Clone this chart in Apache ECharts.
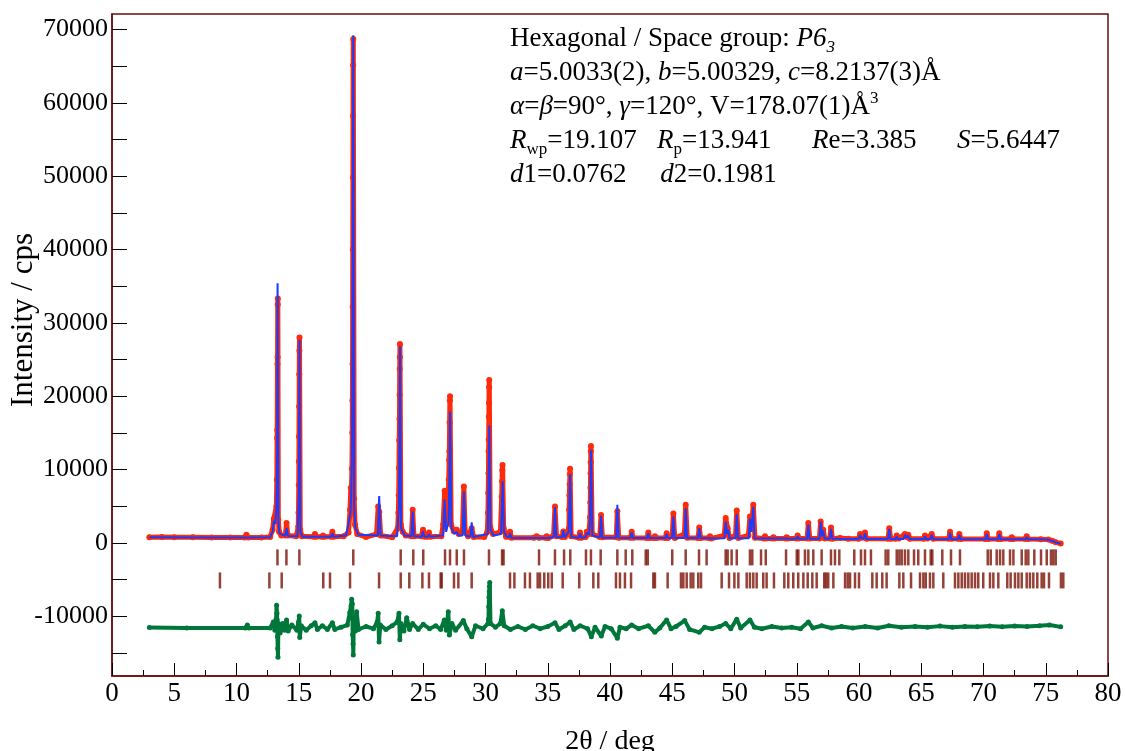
<!DOCTYPE html>
<html>
<head>
<meta charset="utf-8">
<title>Rietveld refinement</title>
<script src="https://cdn.jsdelivr.net/npm/echarts@6.0.0/dist/echarts.min.js"></script>
<style>
  html, body { margin: 0; padding: 0; background: #fff; }
  #main { width: 1125px; height: 751px; }
</style>
</head>
<body>
<div id="main"></div>
<script>
// observed intensity (2θ, cps)
var observed = [
  [3.0,780],[4.0,800],[5.0,780],[6.5,760],[8.0,740],[9.5,730],[10.65,730],[10.8,1100],[10.95,730],[12.0,720],
  [12.7,800],[12.9,1800],[13.0,3300],[13.08,3100],[13.15,3300],[13.2,4950],[13.24,8600],[13.26,14300],[13.27,15400],
  [13.29,24400],[13.3,25300],[13.31,32500],[13.32,33300],[13.36,3150],[13.42,1500],[13.6,1000],[13.92,1000],
  [14.02,2700],[14.12,1000],[14.8,900],[14.96,2200],[14.98,4100],[15.0,7900],[15.01,11100],[15.02,14500],
  [15.03,18600],[15.04,23000],[15.05,26200],[15.06,28000],[15.12,1800],[15.25,900],[16.2,850],[16.3,1200],
  [16.4,850],[16.85,850],[16.95,1000],[17.05,850],[17.6,850],[17.7,1500],[17.8,850],[18.6,900],[19.0,1400],
  [19.12,4500],[19.18,7500],[19.22,6200],[19.27,10100],[19.3,15000],[19.31,19400],[19.32,24400],[19.33,32200],
  [19.34,40000],[19.35,49800],[19.36,58200],[19.37,65100],[19.38,68700],[19.45,6000],[19.52,2500],[19.7,1200],
  [20.4,800],[21.25,1200],[21.38,4950],[21.47,4200],[21.58,1000],[22.5,750],[22.95,2000],[23.0,4100],
  [23.03,6500],[23.05,10200],[23.07,14000],[23.09,16900],[23.1,20200],[23.11,23700],[23.12,25300],[23.13,27100],
  [23.2,2500],[23.35,1500],[23.6,1000],[24.05,900],[24.15,4500],[24.25,900],[24.85,900],[24.98,1800],[25.1,850],
  [25.35,850],[25.46,1400],[25.58,850],[26.45,900],[26.6,2500],[26.72,7100],[26.82,3000],[26.95,3500],
  [27.05,8600],[27.08,11300],[27.1,12500],[27.12,16400],[27.14,19400],[27.15,20000],[27.24,2500],[27.45,1600],
  [27.69,1800],[27.85,1200],[28.15,1500],[28.26,7700],[28.36,1500],[28.6,900],[28.89,2000],[29.05,800],
  [29.9,800],[30.15,1500],[30.2,4100],[30.22,6800],[30.24,9500],[30.25,12500],[30.26,14100],[30.27,17200],
  [30.28,19100],[30.29,21200],[30.3,22200],[30.38,2200],[30.6,1200],[31.2,1500],[31.3,6300],[31.33,8400],
  [31.35,9900],[31.37,10600],[31.46,2000],[31.65,850],[31.88,850],[31.97,1500],[32.08,700],[33.9,700],
  [34.1,900],[34.3,700],[34.8,700],[34.91,900],[35.05,650],[35.47,1000],[35.58,4950],[35.7,900],[36.15,800],
  [36.25,1550],[36.38,800],[36.7,2000],[36.72,4500],[36.74,6500],[36.76,8000],[36.78,9400],[36.79,10100],
  [36.88,900],[37.5,700],[37.59,1400],[37.7,700],[38.05,800],[38.13,1500],[38.3,1200],[38.4,3500],[38.42,5500],
  [38.43,7500],[38.44,9500],[38.45,11000],[38.46,12500],[38.47,13200],[38.57,1200],[39.18,800],[39.28,3800],
  [39.39,750],[40.5,750],[40.59,4300],[40.7,700],[41.65,700],[41.74,1500],[41.85,700],[42.98,650],[43.08,1400],
  [43.18,650],[43.52,650],[43.61,900],[43.72,650],[44.45,650],[44.55,1300],[44.65,650],[45.0,1000],[45.09,4000],
  [45.2,650],[45.98,1200],[46.08,5200],[46.2,700],[47.07,650],[47.17,2100],[47.28,650],[47.93,650],[48.03,900],
  [48.13,600],[49.18,1000],[49.29,3400],[49.45,2000],[49.6,650],[50.08,1000],[50.18,4400],[50.3,650],
  [51.12,1000],[51.24,3600],[51.36,2400],[51.51,5200],[51.64,700],[52.35,600],[52.45,900],[52.55,600],
  [53.02,600],[53.12,750],[53.22,600],[54.09,600],[54.19,750],[54.29,580],[54.97,580],[55.07,1000],[55.18,580],
  [55.83,600],[55.93,2700],[56.05,580],[56.82,600],[56.92,2900],[57.02,1000],[57.13,1800],[57.25,580],
  [57.65,580],[57.75,2100],[57.87,560],[58.47,650],[59.14,560],[59.98,560],[60.08,1200],[60.28,700],
  [60.48,1400],[60.6,550],[62.33,550],[62.43,2000],[62.55,550],[62.93,550],[63.03,1000],[63.2,600],[63.69,1200],
  [63.82,800],[63.96,1100],[64.08,550],[65.2,550],[65.3,1000],[65.5,600],[65.84,1200],[65.96,550],[67.21,550],
  [67.31,1500],[67.43,550],[67.96,550],[68.06,1200],[68.18,530],[70.16,530],[70.26,1300],[70.38,520],
  [71.17,520],[71.27,1300],[71.39,520],[72.17,520],[72.27,750],[72.37,520],[73.37,520],[73.47,900],[73.58,520],
  [74.6,500],[75.2,450],[75.5,300],[75.8,100],[76.2,-100]
];

// calculated profile
var calculated = [
  [3.0,760],[6.5,740],[10.65,720],[10.8,950],[10.95,720],[12.7,780],[12.9,1500],[13.0,3000],[13.1,2600],
  [13.2,4500],[13.26,12000],[13.3,35400],[13.36,3000],[13.45,1300],[13.92,950],[14.03,2000],[14.13,950],
  [14.9,900],[15.0,6000],[15.06,27700],[15.13,1500],[15.3,850],[16.2,850],[16.3,1000],[16.4,850],[17.6,850],
  [17.7,1300],[17.8,850],[18.8,1000],[19.15,4000],[19.2,6000],[19.28,12000],[19.38,69200],[19.45,5000],
  [19.55,2000],[19.8,1100],[21.35,1000],[21.46,6400],[21.57,1000],[22.9,900],[23.05,5000],[23.14,26800],
  [23.22,2000],[23.5,1000],[24.05,900],[24.15,4300],[24.25,900],[24.88,850],[24.98,1600],[25.08,850],
  [25.36,850],[25.46,1200],[25.56,850],[26.6,1000],[26.72,5900],[26.84,1500],[27.05,3000],[27.16,17900],
  [27.26,2000],[27.5,1200],[27.69,1500],[27.85,1000],[28.16,1000],[28.27,7000],[28.38,1000],[28.79,850],
  [28.89,2800],[29.0,800],[30.18,1200],[30.31,16000],[30.4,1800],[30.65,1000],[31.25,1200],[31.38,8400],
  [31.48,1500],[31.7,850],[31.88,800],[31.97,1300],[32.07,700],[34.0,680],[34.1,900],[34.2,680],[34.81,680],
  [34.91,800],[35.01,650],[35.48,800],[35.58,4900],[35.68,800],[36.15,750],[36.25,1700],[36.35,750],
  [36.68,1500],[36.8,9400],[36.9,800],[37.49,700],[37.59,1300],[37.69,700],[38.03,750],[38.13,1400],
  [38.3,1100],[38.38,2500],[38.48,12700],[38.58,1000],[39.18,750],[39.28,3700],[39.38,700],[40.49,700],
  [40.59,5200],[40.69,700],[41.64,680],[41.74,1400],[41.84,680],[42.98,650],[43.08,1300],[43.18,650],
  [43.51,650],[43.61,900],[43.71,650],[44.45,650],[44.55,1200],[44.65,650],[44.99,650],[45.09,3600],
  [45.19,650],[45.98,650],[46.08,4700],[46.18,650],[47.07,650],[47.17,2000],[47.27,650],[47.93,620],
  [48.03,800],[48.13,600],[49.19,620],[49.29,2900],[49.4,1200],[49.5,1800],[49.6,620],[50.08,620],[50.18,3900],
  [50.28,620],[51.14,620],[51.24,3300],[51.36,1500],[51.51,4900],[51.61,620],[52.35,600],[52.45,800],
  [52.55,600],[53.02,580],[53.12,700],[53.22,580],[54.09,580],[54.19,700],[54.29,560],[54.97,560],[55.07,900],
  [55.17,560],[55.83,560],[55.93,2500],[56.03,560],[56.82,560],[56.92,2900],[57.02,900],[57.13,1700],
  [57.23,560],[57.65,550],[57.75,1900],[57.85,550],[58.37,550],[58.47,600],[58.57,540],[59.98,530],
  [60.08,1100],[60.2,600],[60.38,600],[60.48,1300],[60.58,530],[62.33,520],[62.43,1900],[62.53,520],
  [62.93,520],[63.03,900],[63.13,520],[63.59,520],[63.69,1100],[63.82,700],[63.96,1000],[64.06,520],
  [65.2,520],[65.3,900],[65.4,520],[65.74,520],[65.84,1100],[65.94,520],[67.21,510],[67.31,1400],[67.41,510],
  [67.96,510],[68.06,1100],[68.16,510],[70.16,500],[70.26,1200],[70.36,500],[71.17,500],[71.27,1200],
  [71.37,500],[72.17,500],[72.27,700],[72.37,500],[73.37,500],[73.47,800],[73.57,490],[74.6,480],[75.2,430],
  [75.5,280],[75.8,80],[76.2,-120]
];

// observed - calculated, shown with an offset
var difference = [
  [3.0,-11550],[6.0,-11600],[10.7,-11600],[10.87,-11200],[11.0,-11600],[12.7,-11600],[12.95,-10800],
  [13.08,-11900],[13.18,-10400],[13.22,-8500],[13.25,-9600],[13.27,-10500],[13.29,-12800],[13.31,-14400],
  [13.33,-15600],[13.37,-11000],[13.5,-12300],[13.7,-11000],[13.85,-11900],[14.02,-10500],[14.15,-12000],
  [14.45,-11200],[14.85,-11900],[14.98,-10800],[15.04,-9960],[15.08,-12900],[15.2,-11300],[15.6,-11900],
  [16.0,-11300],[16.3,-10900],[16.5,-11800],[16.9,-11300],[17.3,-11800],[17.7,-10900],[17.9,-11800],
  [18.4,-11500],[18.9,-11200],[19.1,-9500],[19.2,-8600],[19.25,-7700],[19.3,-8300],[19.33,-12500],
  [19.36,-13800],[19.38,-15300],[19.42,-10500],[19.55,-12000],[19.65,-9400],[19.8,-11800],[20.4,-11400],
  [21.0,-11700],[21.3,-10800],[21.38,-9600],[21.45,-13500],[21.55,-11200],[22.0,-11800],[22.5,-11300],
  [22.9,-10800],[23.05,-9600],[23.12,-13200],[23.2,-11000],[23.45,-12000],[23.67,-10200],[23.9,-11800],
  [24.15,-11000],[24.6,-11800],[25.0,-11100],[25.5,-11700],[26.0,-11300],[26.4,-11800],[26.69,-10500],
  [26.85,-11900],[27.01,-9400],[27.1,-12550],[27.3,-11000],[27.6,-11900],[28.22,-10600],[28.5,-11700],
  [28.89,-12800],[29.2,-11300],[29.8,-11700],[30.2,-11000],[30.24,-10400],[30.26,-8700],[30.28,-7400],
  [30.3,-6640],[30.32,-5960],[30.34,-5400],[30.4,-11000],[30.8,-11500],[31.2,-11000],[31.35,-9240],
  [31.5,-11300],[32.0,-11800],[32.6,-11400],[33.2,-11800],[33.8,-11300],[34.4,-11700],[35.0,-11400],
  [35.58,-10900],[35.9,-11800],[36.4,-11300],[36.8,-10800],[37.1,-11800],[37.6,-11300],[38.2,-11700],
  [38.5,-12800],[38.8,-11500],[39.3,-12700],[39.6,-11400],[40.1,-11700],[40.59,-13000],[40.8,-11500],
  [41.3,-11700],[41.74,-11200],[42.3,-11700],[43.08,-11300],[43.6,-12200],[44.0,-11600],[44.55,-10500],
  [44.9,-11700],[45.3,-11400],[46.0,-10600],[46.4,-11800],[47.17,-12200],[47.6,-11500],[48.2,-11700],
  [48.8,-11400],[49.29,-11000],[49.7,-11700],[50.18,-10400],[50.5,-11600],[51.24,-10500],[51.6,-11500],
  [52.2,-11700],[53.0,-11400],[53.8,-11600],[54.6,-11500],[55.3,-11700],[55.93,-10800],[56.3,-11600],
  [57.0,-11300],[57.8,-11600],[58.6,-11400],[59.5,-11600],[60.5,-11400],[61.5,-11600],[62.4,-11300],
  [63.4,-11500],[64.5,-11400],[65.5,-11500],[66.5,-11350],[67.5,-11500],[68.5,-11400],[69.5,-11450],
  [70.5,-11350],[71.5,-11450],[72.5,-11350],[73.5,-11400],[74.5,-11300],[75.3,-11200],[76.2,-11450]
];

// reflection positions, phase 1 (upper row) and phase 2 (lower row)
var phase1 = [13.29, 14.01, 15.05, 19.38, 23.19, 24.2, 25.0, 26.75, 27.15, 27.69, 28.27, 30.28, 31.33, 31.45,
  34.30, 35.58, 36.31, 36.81, 38.07, 38.47, 39.25, 40.59, 41.26, 41.79, 42.87, 43.03, 45.0, 46.08, 47.15, 47.76,
  49.29, 49.45, 49.77, 50.18, 51.24, 51.43, 52.13, 52.51, 54.14, 55.0, 55.13, 55.66, 55.93, 56.33, 57.0, 57.75,
  58.07, 58.42, 59.62, 60.16, 60.48, 60.96, 62.14, 62.35, 63.03, 63.24, 63.43, 63.69, 63.96, 64.42, 64.76,
  65.30, 65.76, 65.89, 66.69, 67.39, 68.11, 70.34, 70.58, 71.06, 71.33, 71.59, 72.13, 72.40, 73.07, 73.39,
  73.60, 74.08, 74.62, 75.08, 75.42, 75.61, 75.80];
var phase2 = [8.67, 12.64, 13.63, 16.97, 17.51, 19.12, 21.45, 23.19, 23.88, 24.93, 25.46, 26.40, 26.48, 27.47,
  27.82, 28.89, 31.97, 32.32, 33.17, 33.57, 34.19, 34.38, 34.72, 35.04, 35.32, 36.20, 37.53, 38.66, 39.06,
  40.48, 40.80, 41.20, 41.69, 43.48, 43.61, 44.63, 45.70, 45.89, 46.16, 46.48, 46.69, 47.09, 47.31, 48.97,
  49.56, 49.99, 50.31, 50.98, 51.24, 51.51, 51.78, 52.31, 52.58, 53.17, 54.0, 54.32, 54.72, 55.12, 55.53,
  55.88, 56.25, 56.60, 57.21, 57.35, 57.53, 57.94, 58.88, 59.09, 59.28, 59.68, 60.0, 61.07, 61.42, 61.87,
  62.22, 63.24, 63.56, 64.18, 64.90, 65.17, 65.36, 65.70, 65.97, 66.77, 67.71, 67.98, 68.25, 68.51, 68.78,
  69.05, 69.32, 69.58, 69.98, 70.52, 70.79, 71.19, 71.91, 72.18, 72.53, 72.80, 73.07, 73.47, 73.73, 74.0,
  74.32, 74.67, 74.86, 75.26, 76.22, 76.41];
var phase1Row = -1980;
var phase2Row = -5120;

var yLabels = [-10000, 0, 10000, 20000, 30000, 40000, 50000, 60000, 70000];
var yTicks = [-15000, -10000, -5000, 0, 5000, 10000, 15000, 20000, 25000, 30000, 35000, 40000, 45000, 50000,
  55000, 60000, 65000, 70000];

var frame = '#6b0d0d';
var serif = 'Liberation Serif';

var chart = echarts.init(document.getElementById('main'));

var rich = {
	i: { fontStyle: 'italic', fontFamily: serif, fontSize: 27, lineHeight: 34 },
	sub: { fontFamily: serif, fontSize: 17, lineHeight: 14, verticalAlign: 'bottom' },
	isub: { fontStyle: 'italic', fontFamily: serif, fontSize: 17, lineHeight: 14, verticalAlign: 'bottom' },
	sup: { fontFamily: serif, fontSize: 17, lineHeight: 14, verticalAlign: 'top' }
};
var infoLines = [
	'Hexagonal / Space group: {i|P6}{isub|3}',
	'{i|a}=5.0033(2), {i|b}=5.00329, {i|c}=8.2137(3)Å',
	'{i|α}={i|β}=90°, {i|γ}=120°, V=178.07(1)Å{sup|3}',
	'{i|R}{sub|wp}=19.107   {i|R}{sub|p}=13.941      {i|R}e=3.385      {i|S}=5.6447',
	'{i|d}1=0.0762     {i|d}2=0.1981'
];
var info = infoLines.map(function (t, k) {
	return {
		type: 'text',
		left: 510,
		top: 22 + k * 34,
		style: {
			text: t,
			fontFamily: serif,
			fontSize: 27,
			lineHeight: 34,
			fill: '#000',
			rich: rich
		}
	};
});

var option = {
	animation: false,
	backgroundColor: '#fff',
	grid: {
		left: 112, right: 17, top: 14, bottom: 75,
		outerBoundsMode: 'none',
		containLabel: false,
		show: true,
		borderColor: frame,
		borderWidth: 1.5
	},
	graphic: info,
	xAxis: {
		type: 'value',
		min: 0, max: 80, interval: 5,
		name: '2θ / deg',
		nameLocation: 'middle',
		nameGap: 52,
		nameMoveOverlap: false,
		nameTextStyle: { fontFamily: serif, fontSize: 28, color: '#000', verticalAlign: 'top' },
		axisLine: { onZero: false, lineStyle: { color: frame, width: 1.5 } },
		axisTick: { inside: true, length: 13, lineStyle: { color: '#000' } },
		minorTick: { show: true, splitNumber: 2, length: 6, lineStyle: { color: '#000' } },
		axisLabel: { fontFamily: serif, fontSize: 27, color: '#000', margin: 4 },
		splitLine: { show: false }
	},
	yAxis: {
		type: 'value',
		min: -18150, max: 72100,
		name: 'Intensity / cps',
		nameLocation: 'middle',
		nameGap: 73,
		nameMoveOverlap: false,
		nameTextStyle: { fontFamily: serif, fontSize: 31, color: '#000', padding: [0, 0, 0, 50] },
		axisLine: { lineStyle: { color: frame, width: 1.5 } },
		axisTick: { inside: true, length: 15, customValues: yTicks, lineStyle: { color: '#000' } },
		axisLabel: {
			fontFamily: serif, fontSize: 26, color: '#000', margin: 4, customValues: yLabels,
			formatter: function (v) { return String(v); }
		},
		splitLine: { show: false }
	},
	series: [
		{
			name: 'Observed',
			type: 'line',
			data: observed,
			z: 2,
			symbol: 'circle',
			symbolSize: 6,
			showAllSymbol: true,
			lineStyle: { color: '#ff2a0a', width: 5 },
			itemStyle: { color: '#ff2a0a' }
		},
		{
			name: 'Calculated',
			type: 'line',
			data: calculated,
			z: 3,
			showSymbol: false,
			lineStyle: { color: '#1a3cff', width: 2 }
		},
		{
			name: 'Difference',
			type: 'line',
			data: difference,
			z: 2,
			symbol: 'circle',
			symbolSize: 5,
			showAllSymbol: true,
			lineStyle: { color: '#00773a', width: 4 },
			itemStyle: { color: '#00773a' }
		},
		{
			name: 'Phase 1',
			type: 'scatter',
			data: phase1.map(function (v) { return [v, phase1Row]; }),
			symbol: 'rect',
			symbolSize: [2.5, 16],
			itemStyle: { color: '#7a1205' }
		},
		{
			name: 'Phase 2',
			type: 'scatter',
			data: phase2.map(function (v) { return [v, phase2Row]; }),
			symbol: 'rect',
			symbolSize: [2.5, 16],
			itemStyle: { color: '#7a1205' }
		}
	]
};

chart.setOption(option);
</script>
</body>
</html>
